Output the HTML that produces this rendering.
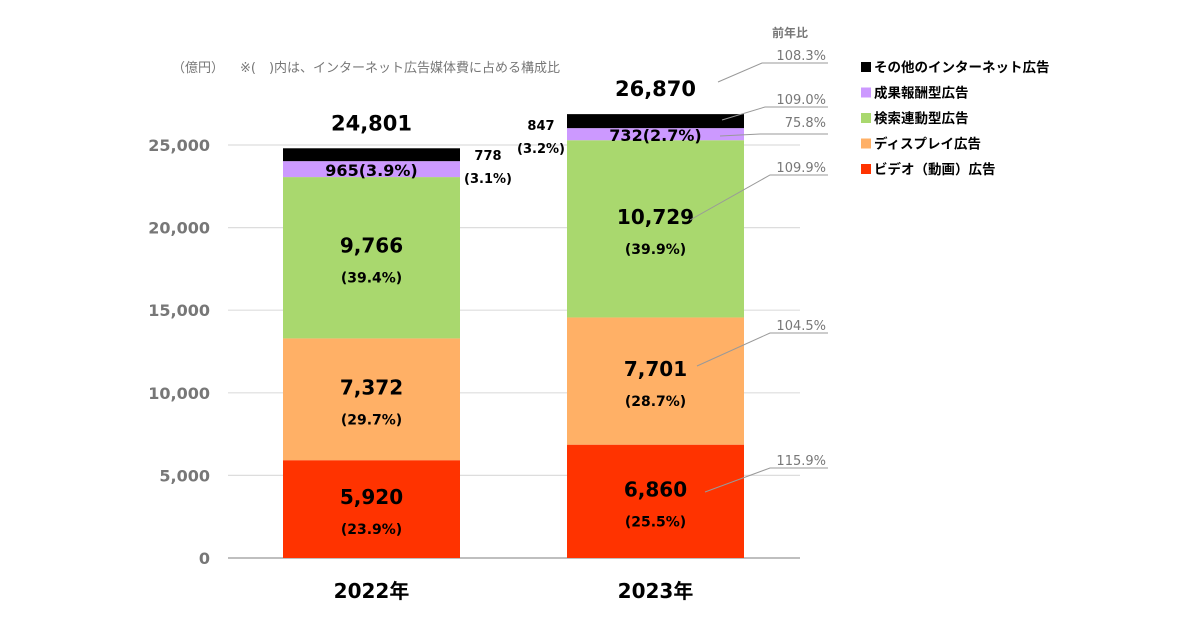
<!DOCTYPE html>
<html><head><meta charset="utf-8">
<style>
body{margin:0;background:#fff;}
svg{display:block;font-family:"DejaVu Sans","Noto Sans CJK JP",sans-serif;}
</style></head>
<body>
<svg id="chart" width="1200" height="628" viewBox="0 0 1200 628">
<text x="172" y="72" font-size="13" fill="#777">（億円）</text>
<text x="240" y="72" font-size="13" fill="#777">※(　)内は、インターネット広告媒体費に占める構成比</text>
<g id="grid"></g><g id="bars"></g><g id="labels"></g>
<text x="808" y="37" font-size="12" fill="#777" font-weight="bold" text-anchor="end">前年比</text>
<g id="legend"></g>
</svg>
<script>
const categories=["2022年","2023年"];
const seriesNames=["ビデオ（動画）広告","ディスプレイ広告","検索連動型広告","成果報酬型広告","その他のインターネット広告"];
const video=[5920,6860];
const display=[7372,7701];
const search=[9766,10729];
const affiliate=[965,732];
const other=[778,847];
const videoPct=["23.9%","25.5%"];
const displayPct=["29.7%","28.7%"];
const searchPct=["39.4%","39.9%"];
const affiliatePct=["3.9%","2.7%"];
const otherPct=["3.1%","3.2%"];
const totals=[24801,26870];
const yoy=["115.9%","104.5%","109.9%","75.8%","109.0%","108.3%"];
const yTicks=[0,5000,10000,15000,20000,25000];
const colors=["#ff3300","#ffb066","#a9d86e","#cc99ff","#000000"];
const NS="http://www.w3.org/2000/svg";
const y0=558,yTop=145,yMax=25000;
function y(v){return y0-(v/yMax)*(y0-yTop);}
const barX=[283,567],barW=177;
function mk(tag,attrs,parent,txt){const e=document.createElementNS(NS,tag);for(const k in attrs)e.setAttribute(k,attrs[k]);if(txt!==undefined)e.textContent=txt;document.getElementById(parent).appendChild(e);return e;}
function fmt(v){return v.toLocaleString("en-US");}
yTicks.forEach(t=>{
 const l=mk("line",{x1:228,x2:800,y1:y(t),y2:y(t),stroke:t===0?"#aaa":"#ddd","stroke-width":t===0?1.5:1.2},"grid");
 
 
 const tx=mk("text",{x:210,y:y(t)+6,"text-anchor":"end","font-size":16,"font-weight":"bold",fill:"#777"},"grid",fmt(t));
 
 
});
const series=[video,display,search,affiliate,other];
const pcts=[videoPct,displayPct,searchPct,affiliatePct,otherPct];
categories.forEach((c,i)=>{
 let base=0;
 series.forEach((s,k)=>{
  const r=mk("rect",{x:barX[i],y:y(base+s[i]),width:barW,height:y(base)-y(base+s[i]),fill:colors[k]},"bars");
  
  
  const cx=barX[i]+barW/2,cy=(y(base)+y(base+s[i]))/2;
  if(k<3){
   const a=mk("text",{x:cx,y:cy-5,"text-anchor":"middle","font-size":20,"font-weight":"bold",fill:"#000"},"labels",fmt(s[i]));
   
   
   const b=mk("text",{x:cx,y:cy+25,"text-anchor":"middle","font-size":14,"font-weight":"bold",fill:"#000"},"labels","("+pcts[k][i]+")");
   
   
  }else if(k===3){
   const a=mk("text",{x:cx,y:cy+7,"text-anchor":"middle","font-size":16,"font-weight":"bold",fill:"#000"},"labels",fmt(s[i])+"("+pcts[k][i]+")");
   
   
  }else{
   const lx=i===0?barX[i]+barW+28:barX[i]-26,ly=i===0?y(base)-1:y(base)+2;
   const a=mk("text",{x:lx,y:ly,"text-anchor":"middle","font-size":13,"font-weight":"bold",fill:"#000"},"labels",fmt(s[i]));
   
   
   const b=mk("text",{x:lx,y:ly+23,"text-anchor":"middle","font-size":13,"font-weight":"bold",fill:"#000"},"labels","("+pcts[k][i]+")");
   
   
  }
  base+=s[i];
 });
 const t=mk("text",{x:barX[i]+barW/2,y:y(totals[i])-18,"text-anchor":"middle","font-size":21,"font-weight":"bold",fill:"#000"},"labels",fmt(totals[i]));
 
 
 const cl=mk("text",{x:barX[i]+barW/2,y:598,"text-anchor":"middle","font-size":20,"font-weight":"bold",fill:"#000"},"labels",c);
 
 
});
const lead=[[705,492,770,468],[697,366,770,333],[690,220,770,175],[720,136,760,134],[722,120,765,107],[718,82,762,63]];
const txtY=[465,330,172,127,104,60];
yoy.forEach((v,k)=>{
 const L=lead[k];
 const p=mk("polyline",{points:L[0]+","+L[1]+" "+L[2]+","+L[3]+" 828,"+L[3],fill:"none",stroke:"#999","stroke-width":1},"labels");
 
 
 const t=mk("text",{x:826,y:txtY[k],"text-anchor":"end","font-size":13,fill:"#777"},"labels",v);
 
 
});
for(let j=0;j<5;j++){
 const k=4-j,ly=67+j*25.5;
 const r=mk("rect",{x:861,y:ly-5,width:10,height:10,fill:colors[k]},"legend");
 
 
 const t=mk("text",{x:874,y:ly+5,"font-size":13.5,"font-weight":"bold",fill:"#000"},"legend",seriesNames[k]);
 
 
}
</script>
</body></html>
